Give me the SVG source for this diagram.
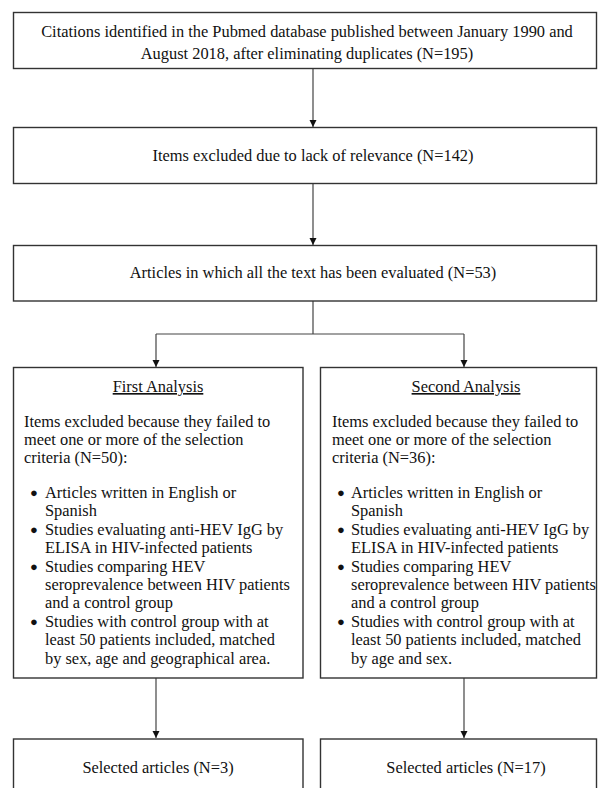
<svg xmlns="http://www.w3.org/2000/svg" width="598" height="788" viewBox="0 0 598 788">
<style>
.box{fill:#fff;stroke:#333;stroke-width:1.4}
.con{stroke:#444;stroke-width:1.2;fill:none}
text{font-family:"Liberation Serif","Times New Roman",serif;font-size:16.4px;fill:#111}
.c{text-anchor:middle}
.u{text-decoration:underline}
.b{font-size:13px}
</style>
<defs>
<marker id="ah" markerWidth="8" markerHeight="8" refX="7" refY="4" orient="auto" markerUnits="userSpaceOnUse">
<path d="M0,0.5 L7,4 L0,7.5 Z" fill="#111"/>
</marker>
</defs>
<rect width="598" height="788" fill="#fff"/>
<g id="connectors">
<line class="con" x1="313" y1="68" x2="313" y2="127" marker-end="url(#ah)"/>
<line class="con" x1="313" y1="183" x2="313" y2="245" marker-end="url(#ah)"/>
<polyline class="con" points="313,301 313,334"/>
<polyline class="con" points="156,334 464,334"/>
<line class="con" x1="156" y1="334" x2="156" y2="367" marker-end="url(#ah)"/>
<line class="con" x1="464" y1="334" x2="464" y2="367" marker-end="url(#ah)"/>
<line class="con" x1="156" y1="678" x2="156" y2="738" marker-end="url(#ah)"/>
<line class="con" x1="464" y1="678" x2="464" y2="738" marker-end="url(#ah)"/>
</g>
<g id="n1">
<rect class="box" x="13.5" y="12.5" width="583" height="56"/>
<text class="c" x="307" y="37">Citations identified in the Pubmed database published between January 1990 and</text>
<text class="c" x="307" y="59">August 2018, after eliminating duplicates (N=195)</text>
</g>
<g id="n2">
<rect class="box" x="13.5" y="127.5" width="583" height="56"/>
<text class="c" x="313" y="161">Items excluded due to lack of relevance (N=142)</text>
</g>
<g id="n3">
<rect class="box" x="13.5" y="245.5" width="583" height="55.5"/>
<text class="c" x="313" y="278">Articles in which all the text has been evaluated (N=53)</text>
</g>
<g id="n4">
<rect class="box" x="13.5" y="367.5" width="289.5" height="310.5"/>
<text class="c u" x="158" y="392">First Analysis</text>
<text x="24" y="427">Items excluded because they failed to</text>
<text x="24" y="445">meet one or more of the selection</text>
<text x="24" y="463">criteria (N=50):</text>
<text class="b" x="30" y="497">●</text><text x="45" y="498">Articles written in English or</text>
<text x="45" y="516">Spanish</text>
<text class="b" x="30" y="534">●</text><text x="45" y="535">Studies evaluating anti-HEV IgG by</text>
<text x="45" y="553">ELISA in HIV-infected patients</text>
<text class="b" x="30" y="571">●</text><text x="45" y="572">Studies comparing HEV</text>
<text x="45" y="590">seroprevalence between HIV patients</text>
<text x="45" y="608">and a control group</text>
<text class="b" x="30" y="626">●</text><text x="45" y="627">Studies with control group with at</text>
<text x="45" y="645">least 50 patients included, matched</text>
<text x="45" y="664">by sex, age and geographical area.</text>
</g>
<g id="n5">
<rect class="box" x="320.5" y="367.5" width="276" height="310.5"/>
<text class="c u" x="466" y="392">Second Analysis</text>
<text x="332" y="427">Items excluded because they failed to</text>
<text x="332" y="445">meet one or more of the selection</text>
<text x="332" y="463">criteria (N=36):</text>
<text class="b" x="337" y="497">●</text><text x="351" y="498">Articles written in English or</text>
<text x="351" y="516">Spanish</text>
<text class="b" x="337" y="534">●</text><text x="351" y="535">Studies evaluating anti-HEV IgG by</text>
<text x="351" y="553">ELISA in HIV-infected patients</text>
<text class="b" x="337" y="571">●</text><text x="351" y="572">Studies comparing HEV</text>
<text x="351" y="590">seroprevalence between HIV patients</text>
<text x="351" y="608">and a control group</text>
<text class="b" x="337" y="626">●</text><text x="351" y="627">Studies with control group with at</text>
<text x="351" y="645">least 50 patients included, matched</text>
<text x="351" y="664">by age and sex.</text>
</g>
<g id="n6">
<rect class="box" x="13.5" y="739" width="289.5" height="70"/>
<text class="c" x="158" y="773">Selected articles (N=3)</text>
</g>
<g id="n7">
<rect class="box" x="320.5" y="739" width="276" height="70"/>
<text class="c" x="466" y="773">Selected articles (N=17)</text>
</g>
</svg>
